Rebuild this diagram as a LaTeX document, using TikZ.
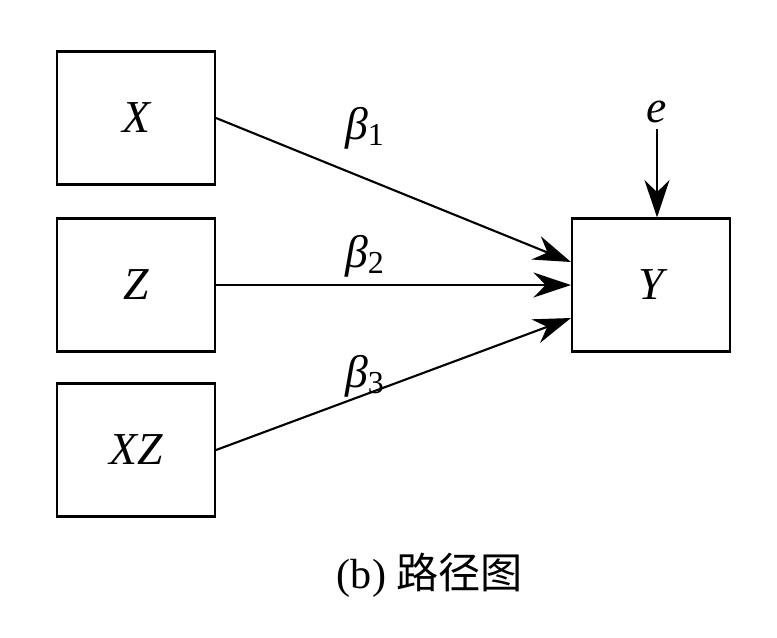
\documentclass[tikz,border=0pt]{standalone}
\usepackage{fontspec}
\setmainfont{Liberation Serif}
\newfontfamily\cjk{Noto Sans CJK SC}
\usetikzlibrary{arrows.meta}
\newcommand{\coefsym}[1]{{\itshape β}\textsubscript{#1}}
\begin{document}
\begin{tikzpicture}[x=0.02cm,y=-0.02cm]
    \tikzset{
    var box/.style={draw,line width=1.2pt,minimum width=3.16cm,minimum height=2.66cm,inner sep=0,font=\fontsize{26}{30}\selectfont\itshape},
    path arrow/.style={line width=1.2pt,-{Stealth[length=0.75cm,width=0.5cm]}},
    coef/.style={font=\fontsize{26}{30}\selectfont}
    }
    \useasboundingbox (0,0) rectangle (777,637);
    \node[var box] (x) at (136,118) {X};
    \node[var box] (z) at (136,285) {Z};
    \node[var box] (xz) at (136,450) {XZ};
    \node[var box] (y) at (651,285) {Y};
    \node[font=\fontsize{26}{30}\selectfont\itshape] (e) at (657,112) {e};

    \draw[path arrow] (x.east) -- (y.west |- 0,262);
    \draw[path arrow] (z.east) -- (y.west);
    \draw[path arrow] (xz.east) -- (y.west |- 0,318);
    \draw[path arrow] (e.south) -- (y.north -| e);

    \node[coef] (b1) at (365,128) {\coefsym{1}};
    \node[coef] (b2) at (365,256) {\coefsym{2}};
    \node[coef] (b3) at (365,376) {\coefsym{3}};
    \node[font=\fontsize{24}{28}\selectfont] (cap) at (430,575) {(b) {\cjk 路径图}};
\end{tikzpicture}
\end{document}
